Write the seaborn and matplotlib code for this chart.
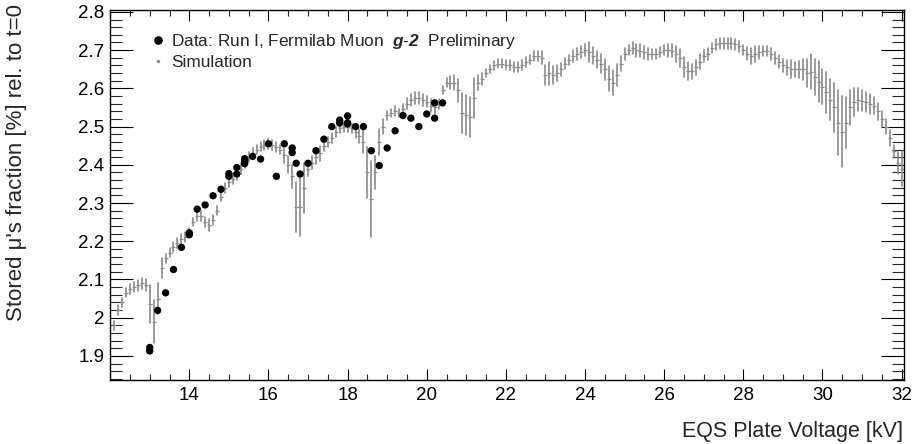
import numpy as np
import pandas as pd
import matplotlib
matplotlib.use("Agg")
import matplotlib.pyplot as plt
import seaborn as sns
from matplotlib.lines import Line2D
from matplotlib.ticker import FixedLocator, MultipleLocator, FuncFormatter

# ---------------- data ----------------
# Simulation: regular 0.1 kV voltage grid
sim_x = np.round(np.arange(12.1, 32.05, 0.1), 1)
sim_y = [
    1.98, 2.02, 2.04, 2.065, 2.075, 2.08, 2.085, 2.09, 2.085, 2.035,
    1.99, 2.05, 2.13, 2.155, 2.17, 2.185, 2.195, 2.205, 2.21, 2.225,
    2.25, 2.265, 2.265, 2.25, 2.243, 2.255, 2.28, 2.315, 2.34, 2.355,
    2.362, 2.372, 2.39, 2.405, 2.42, 2.43, 2.44, 2.447, 2.452, 2.455,
    2.452, 2.447, 2.44, 2.425, 2.40, 2.37, 2.29, 2.29, 2.34, 2.39,
    2.405, 2.42, 2.43, 2.45, 2.46, 2.47, 2.485, 2.495, 2.50, 2.50,
    2.495, 2.485, 2.475, 2.46, 2.38, 2.31, 2.38, 2.46, 2.50, 2.53,
    2.535, 2.54, 2.535, 2.545, 2.56, 2.57, 2.575, 2.575, 2.57, 2.565,
    2.555, 2.55, 2.56, 2.595, 2.615, 2.615, 2.615, 2.595, 2.535, 2.53,
    2.525, 2.575, 2.615, 2.625, 2.64, 2.65, 2.66, 2.665, 2.665, 2.662,
    2.66, 2.655, 2.655, 2.66, 2.67, 2.675, 2.685, 2.685, 2.68, 2.635,
    2.64, 2.635, 2.64, 2.65, 2.665, 2.675, 2.685, 2.69, 2.695, 2.70,
    2.695, 2.685, 2.675, 2.665, 2.65, 2.625, 2.615, 2.635, 2.665, 2.69,
    2.70, 2.705, 2.70, 2.698, 2.695, 2.69, 2.69, 2.69, 2.695, 2.70,
    2.70, 2.698, 2.69, 2.68, 2.655, 2.645, 2.645, 2.655, 2.67, 2.685,
    2.69, 2.705, 2.715, 2.718, 2.718, 2.718, 2.718, 2.715, 2.71, 2.70,
    2.69, 2.685, 2.69, 2.695, 2.697, 2.697, 2.69, 2.68, 2.67, 2.66,
    2.655, 2.65, 2.65, 2.65, 2.65, 2.64, 2.644, 2.63, 2.617, 2.604,
    2.59, 2.57, 2.55, 2.51, 2.486, 2.51, 2.55, 2.565, 2.57, 2.568,
    2.565, 2.56, 2.555, 2.54, 2.52, 2.50, 2.47, 2.435, 2.405, 2.39,
]
sim_err = [
    .012, .012, .012, .012, .013, .014, .014, .014, .015, .050,
    .055, .040, .025, .012, .012, .012, .013, .013, .013, .010,
    .010, .013, .013, .013, .016, .013, .011, .011, .013, .012,
    .013, .013, .014, .013, .013, .013, .012, .012, .012, .013,
    .013, .013, .013, .020, .022, .030, .065, .077, .065, .020,
    .017, .018, .019, .015, .013, .014, .013, .013, .013, .013,
    .013, .015, .019, .030, .067, .100, .043, .034, .020, .012,
    .011, .013, .011, .013, .015, .015, .015, .015, .015, .015,
    .017, .017, .013, .010, .011, .017, .020, .030, .052, .052,
    .052, .052, .020, .015, .011, .011, .011, .011, .011, .011,
    .013, .013, .013, .013, .013, .011, .013, .013, .017, .026,
    .030, .024, .020, .017, .015, .013, .015, .015, .015, .015,
    .026, .022, .022, .024, .028, .033, .033, .030, .020, .015,
    .013, .015, .017, .017, .017, .015, .013, .013, .013, .013,
    .017, .017, .022, .024, .026, .024, .020, .020, .020, .015,
    .015, .013, .015, .014, .014, .014, .014, .015, .015, .013,
    .017, .020, .020, .017, .013, .013, .015, .015, .017, .017,
    .020, .024, .020, .022, .028, .036, .045, .048, .054, .046,
    .054, .054, .063, .085, .093, .067, .046, .037, .030, .028,
    .026, .026, .022, .022, .020, .020, .022, .017, .028, .046,
]

# Data: Run I
data_x = [13.0, 13.0, 13.2, 13.4, 13.6, 13.8, 14.0, 14.0, 14.2, 14.4,
          14.6, 14.8, 15.0, 15.0, 15.2, 15.2, 15.4, 15.4, 15.4, 15.6,
          15.8, 16.0, 16.2, 16.4, 16.6, 16.6, 16.7, 16.8, 17.0, 17.2,
          17.4, 17.6, 17.8, 17.8, 18.0, 18.0, 18.0, 18.2, 18.4, 18.6,
          18.8, 19.0, 19.2, 19.4, 19.6, 19.8, 20.0, 20.2, 20.2, 20.4]
data_y = [1.922, 1.913, 2.019, 2.065, 2.126, 2.184, 2.222, 2.217, 2.284, 2.295,
          2.319, 2.336, 2.370, 2.377, 2.393, 2.376, 2.416, 2.410, 2.403, 2.422,
          2.415, 2.455, 2.370, 2.455, 2.444, 2.432, 2.404, 2.376, 2.404, 2.437,
          2.467, 2.500, 2.517, 2.509, 2.528, 2.510, 2.507, 2.500, 2.500, 2.437,
          2.398, 2.444, 2.489, 2.529, 2.522, 2.500, 2.533, 2.562, 2.522, 2.562]

x_major_ticks = [14, 16, 18, 20, 22, 24, 26, 28, 30, 32]
y_major_ticks = [1.9, 2.0, 2.1, 2.2, 2.3, 2.4, 2.5, 2.6, 2.7, 2.8]

legend_labels = ["Data: Run I, Fermilab Muon  $\\mathbf{g}$-$\\mathbf{2}$  Preliminary",
                 "Simulation"]
xlabel = "EQS Plate Voltage [kV]"
ylabel = "Stored \u03bc's fraction [%] rel. to t=0"

# ---------------- style ----------------
sns.set_theme(style="ticks")
plt.rcParams["font.family"] = ["Liberation Sans", "DejaVu Sans"]
plt.rcParams["mathtext.fontset"] = "custom"
plt.rcParams["mathtext.rm"] = "Liberation Sans"
plt.rcParams["mathtext.bf"] = "Liberation Sans:bold:italic"

GRAY = "#8a8a8a"

fig = plt.figure(figsize=(9.16, 4.44), dpi=100)
ax = fig.add_axes([110 / 916, 1 - 380 / 444, 794 / 916, 370 / 444])

# Simulation as mean +/- range via seaborn
sim_df = pd.DataFrame({
    "x": np.concatenate([sim_x, sim_x]),
    "y": np.concatenate([np.array(sim_y) - np.array(sim_err),
                         np.array(sim_y) + np.array(sim_err)]),
})
sns.lineplot(data=sim_df, x="x", y="y", estimator="mean",
             errorbar=lambda v: (v.min(), v.max()), err_style="bars",
             linestyle="none", marker="_", markersize=3,
             markeredgecolor=GRAY, markeredgewidth=0.9, color=GRAY,
             err_kws={"elinewidth": 1.2, "capsize": 0}, ax=ax, legend=False)

sns.scatterplot(x=data_x, y=data_y, color="black", s=28, edgecolor="none",
                ax=ax, legend=False, zorder=5)

ax.set_xlim(11.996, 32.06)
ax.set_ylim(1.837, 2.805)
ax.set_xlabel("")
ax.set_ylabel("")

ax.xaxis.set_major_locator(FixedLocator(x_major_ticks))
ax.xaxis.set_minor_locator(MultipleLocator(0.5))
ax.yaxis.set_major_locator(FixedLocator(y_major_ticks))
ax.yaxis.set_minor_locator(MultipleLocator(0.02))
ax.yaxis.set_major_formatter(FuncFormatter(lambda v, p: f"{v:g}"))
ax.xaxis.set_major_formatter(FuncFormatter(lambda v, p: f"{v:g}"))

for s in ax.spines.values():
    s.set_visible(True)
    s.set_color("black")
    s.set_linewidth(1.0)

ax.tick_params(axis="x", which="major", direction="in", length=8, width=0.8,
               top=True, bottom=True, labelsize=13.5, pad=5, colors="black")
ax.tick_params(axis="x", which="minor", direction="in", length=4, width=0.8,
               top=True, bottom=True)
ax.tick_params(axis="y", which="major", direction="in", length=16.5, width=0.8,
               left=True, right=True, labelsize=13.5, pad=4, colors="black")
ax.tick_params(axis="y", which="minor", direction="in", length=8.5, width=0.8,
               left=True, right=True)

# legend
h1 = Line2D([], [], ls="none", marker="o", color="black", markersize=5.2)
h2 = Line2D([], [], ls="none", marker=".", color=GRAY, markersize=3)
leg = ax.legend([h1, h2], legend_labels, loc="upper left",
                bbox_to_anchor=(0.049, 0.94), frameon=False, fontsize=12.4,
                handlelength=1.0, handletextpad=0.3, labelspacing=0.2,
                borderpad=0, borderaxespad=0)

fig.text(903 / 916, 1 - 437 / 444, xlabel, ha="right", va="baseline",
         fontsize=15.5)
fig.text(17 / 916, 1 - 4 / 444, ylabel, ha="center", va="top",
         rotation=90, fontsize=16)

fig.savefig("out.png", dpi=100, facecolor="white")
